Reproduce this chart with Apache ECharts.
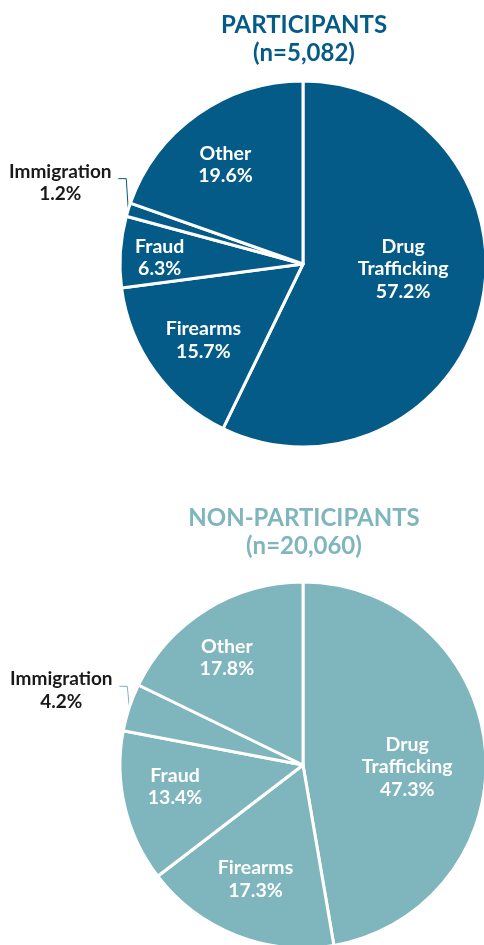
<!DOCTYPE html>
<html>
<head>
<meta charset="utf-8">
<style>
  html, body { margin: 0; padding: 0; background: #ffffff; }
  #chart { width: 484px; height: 945px; }
</style>
<script src="https://cdn.jsdelivr.net/npm/echarts@6/dist/echarts.min.js"></script>
</head>
<body>
<div id="chart"></div>
<script>
// Offense categories, clockwise from 12 o'clock
const categories = ['Drug\nTrafficking', 'Firearms', 'Fraud', 'Immigration', 'Other'];

// Share of cases (%) per category
const participantValues = [57.2, 15.7, 6.3, 1.2, 19.6];
const nonParticipantValues = [47.3, 17.3, 13.4, 4.2, 17.8];

const groupTitles = ['PARTICIPANTS', 'NON-PARTICIPANTS'];
const groupCounts = ['(n=5,082)', '(n=20,060)'];

const FONT = 'Lato, "Open Sans", sans-serif';
const groups = [
  {
    color: '#045b87',
    center: [303, 264],
    titleTop: 11,
    values: participantValues,
    // nudges for the inner labels, keyed by category index
    offsets: [[8, -16], [-23, 21], [-49, 0], null, [-23, -22]],
    calloutLift: 31
  },
  {
    color: '#7fb5bc',
    center: [303, 765],
    titleTop: 504,
    values: nonParticipantValues,
    offsets: [[10, 10], [-13, 26], [-36, 0], null, [-26, -27]],
    calloutLift: 21
  }
];

const chart = echarts.init(document.getElementById('chart'), null, { renderer: 'canvas' });

function buildSeries(g) {
  const data = categories.map((name, i) => {
    const item = { name: name, value: g.values[i] };
    if (g.offsets[i]) {
      item.label = { position: 'inside', offset: g.offsets[i] };
    } else {
      item.label = {
        position: 'outside',
        color: '#1a1a1a',
        fontSize: 19
      };
      item.labelLine = {
        show: true,
        length: 8,
        length2: 8,
        lineStyle: { color: g.color, width: 1 }
      };
    }
    return item;
  });
  return {
    type: 'pie',
    center: g.center,
    radius: [0, 183],
    startAngle: 90,
    clockwise: true,
    avoidLabelOverlap: false,
    silent: true,
    animation: false,
    itemStyle: { color: g.color, borderColor: '#ffffff', borderWidth: 3 },
    label: {
      show: true,
      position: 'inside',
      color: '#ffffff',
      fontFamily: FONT,
      fontWeight: 'bold',
      fontSize: 19.5,
      lineHeight: 22.5,
      align: 'center',
      formatter: p => p.name + '\n' + p.value.toFixed(1) + '%'
    },
    labelLine: { show: false },
    labelLayout: function (params) {
      const pts = params.labelLinePoints;
      if (!pts || !pts.length) return {};
      const edge = pts[0];
      const cornerY = edge[1] - g.calloutLift;
      return {
        x: edge[0] - 68,
        y: cornerY + 4,
        align: 'center',
        verticalAlign: 'middle',
        labelLinePoints: [
          [edge[0], edge[1]],
          [edge[0] - 2, cornerY],
          [edge[0] - 10, cornerY]
        ]
      };
    },
    data: data
  };
}

const option = {
  backgroundColor: '#ffffff',
  title: groups.map((g, i) => ({
    text: groupTitles[i] + '\n' + groupCounts[i],
    left: 304,
    top: g.titleTop,
    padding: 0,
    textAlign: 'center',
    textStyle: {
      color: g.color,
      fontFamily: FONT,
      fontWeight: 'bold',
      fontSize: 24,
      lineHeight: 28
    }
  })),
  series: groups.map(buildSeries)
};

chart.setOption(option);
</script>
</body>
</html>
